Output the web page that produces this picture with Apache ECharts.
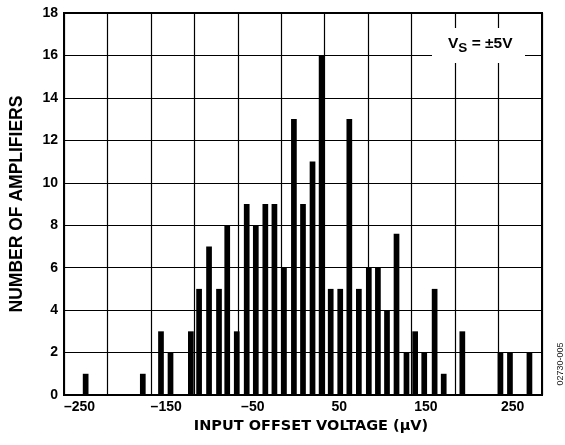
<!DOCTYPE html>
<html>
<head>
<meta charset="utf-8">
<script src="https://cdn.jsdelivr.net/npm/echarts@6/dist/echarts.min.js"></script>
<style>
html,body{margin:0;padding:0;background:#fff;}
#chart{width:565px;height:445px;}
</style>
</head>
<body>
<div id="chart"></div>
<script>
// Bin centers (µV) and number of amplifiers
const binCenters = [-243,-177,-156,-145,-121.5,-112,-100.5,-89,-79.5,-68.5,-57,-46.5,-35.5,-25,-14,-2.5,8,19,29.5,40,51,61.5,72.5,84,94.5,105,116,127.5,137.5,148,160,170.5,192,236,247,269.5];
const counts = [1,1,3,2,3,5,7,5,8,3,9,8,9,9,6,13,9,11,16,5,5,13,5,6,6,4,7.6,2,3,2,5,1,3,2,2,2];
const xTickValues = [-250,-150,-50,50,150,250];
const yTicks = [0,2,4,6,8,10,12,14,16,18];
const xTitle = 'INPUT OFFSET VOLTAGE (µV)';
const yTitle = 'NUMBER OF AMPLIFIERS';
const note = {v:'V', sub:'S', rest:' = ±5V'};
const figId = '02730-005';

const labelFont = '"Liberation Sans", Arial, sans-serif';
const titleFont = '"DejaVu Sans", sans-serif';

const chart = echarts.init(document.getElementById('chart'), null, {renderer:'canvas'});
const option = {
  animation: false,
  backgroundColor: '#fff',
  grid: {left: 63, right: 23, top: 13, bottom: 50, show: true, borderColor: '#000', borderWidth: 2, backgroundColor: 'transparent'},
  xAxis: [
    {
      type: 'value', min: -268, max: 284,
      axisLine: {show: true, onZero: false, lineStyle: {color: '#000', width: 2}},
      axisTick: {show: false},
      splitLine: {show: false},
      axisLabel: {
        customValues: xTickValues,
        color: '#000', fontFamily: labelFont, fontWeight: 'bold', fontSize: 14, margin: 5,
        formatter: v => (v < 0 ? '\u2013' + Math.abs(v) : String(v))
      },
      name: xTitle, nameLocation: 'middle', nameGap: 22,
      nameTextStyle: {color: '#000', fontFamily: titleFont, fontWeight: 'bold', fontSize: 14.5, padding: [0, 0, 0, 16]}
    },
    {
      type: 'value', min: 0, max: 11, interval: 1, position: 'top',
      axisLine: {show: false}, axisTick: {show: false}, axisLabel: {show: false},
      splitLine: {show: true, lineStyle: {color: '#000', width: 1.2}}
    }
  ],
  yAxis: {
    type: 'value', min: yTicks[0], max: yTicks[yTicks.length - 1], interval: 2,
    axisLine: {show: true, onZero: false, lineStyle: {color: '#000', width: 2}},
    axisTick: {show: false},
    splitLine: {show: true, lineStyle: {color: '#000', width: 1.2}},
    axisLabel: {color: '#000', fontFamily: labelFont, fontWeight: 'bold', fontSize: 14, margin: 6},
    name: yTitle, nameLocation: 'middle', nameGap: 38,
    nameTextStyle: {color: '#000', fontFamily: labelFont, fontWeight: 'bold', fontSize: 17.5}
  },
  series: [{
    type: 'bar', xAxisIndex: 0, yAxisIndex: 0,
    barWidth: 5.7,
    itemStyle: {color: '#000'},
    data: binCenters.map((c, i) => [c, counts[i]]),
    z: 3
  }],
  graphic: [
    {type: 'rect', z: 100, shape: {x: 432, y: 28, width: 93, height: 35}, style: {fill: '#fff'}},
    {type: 'text', z: 101, x: 448, y: 38,
      style: {
        text: '{a|' + note.v + '}{b|' + note.sub + '}{a|' + note.rest + '}',
        rich: {
          a: {fontFamily: labelFont, fontWeight: 'bold', fontSize: 15.5, lineHeight: 16, padding: [0, 0, 5, 0], fill: '#000'},
          b: {fontFamily: labelFont, fontWeight: 'bold', fontSize: 13.5, lineHeight: 16, padding: [5, 0, 0, 0], fill: '#000'}
        }
      }
    },
    {type: 'text', z: 101, x: 561, y: 364, rotation: Math.PI / 2,
      style: {text: figId, fontFamily: labelFont, fontSize: 9, fill: '#222', align: 'center', verticalAlign: 'middle'}}
  ]
};
chart.setOption(option);
</script>
</body>
</html>
